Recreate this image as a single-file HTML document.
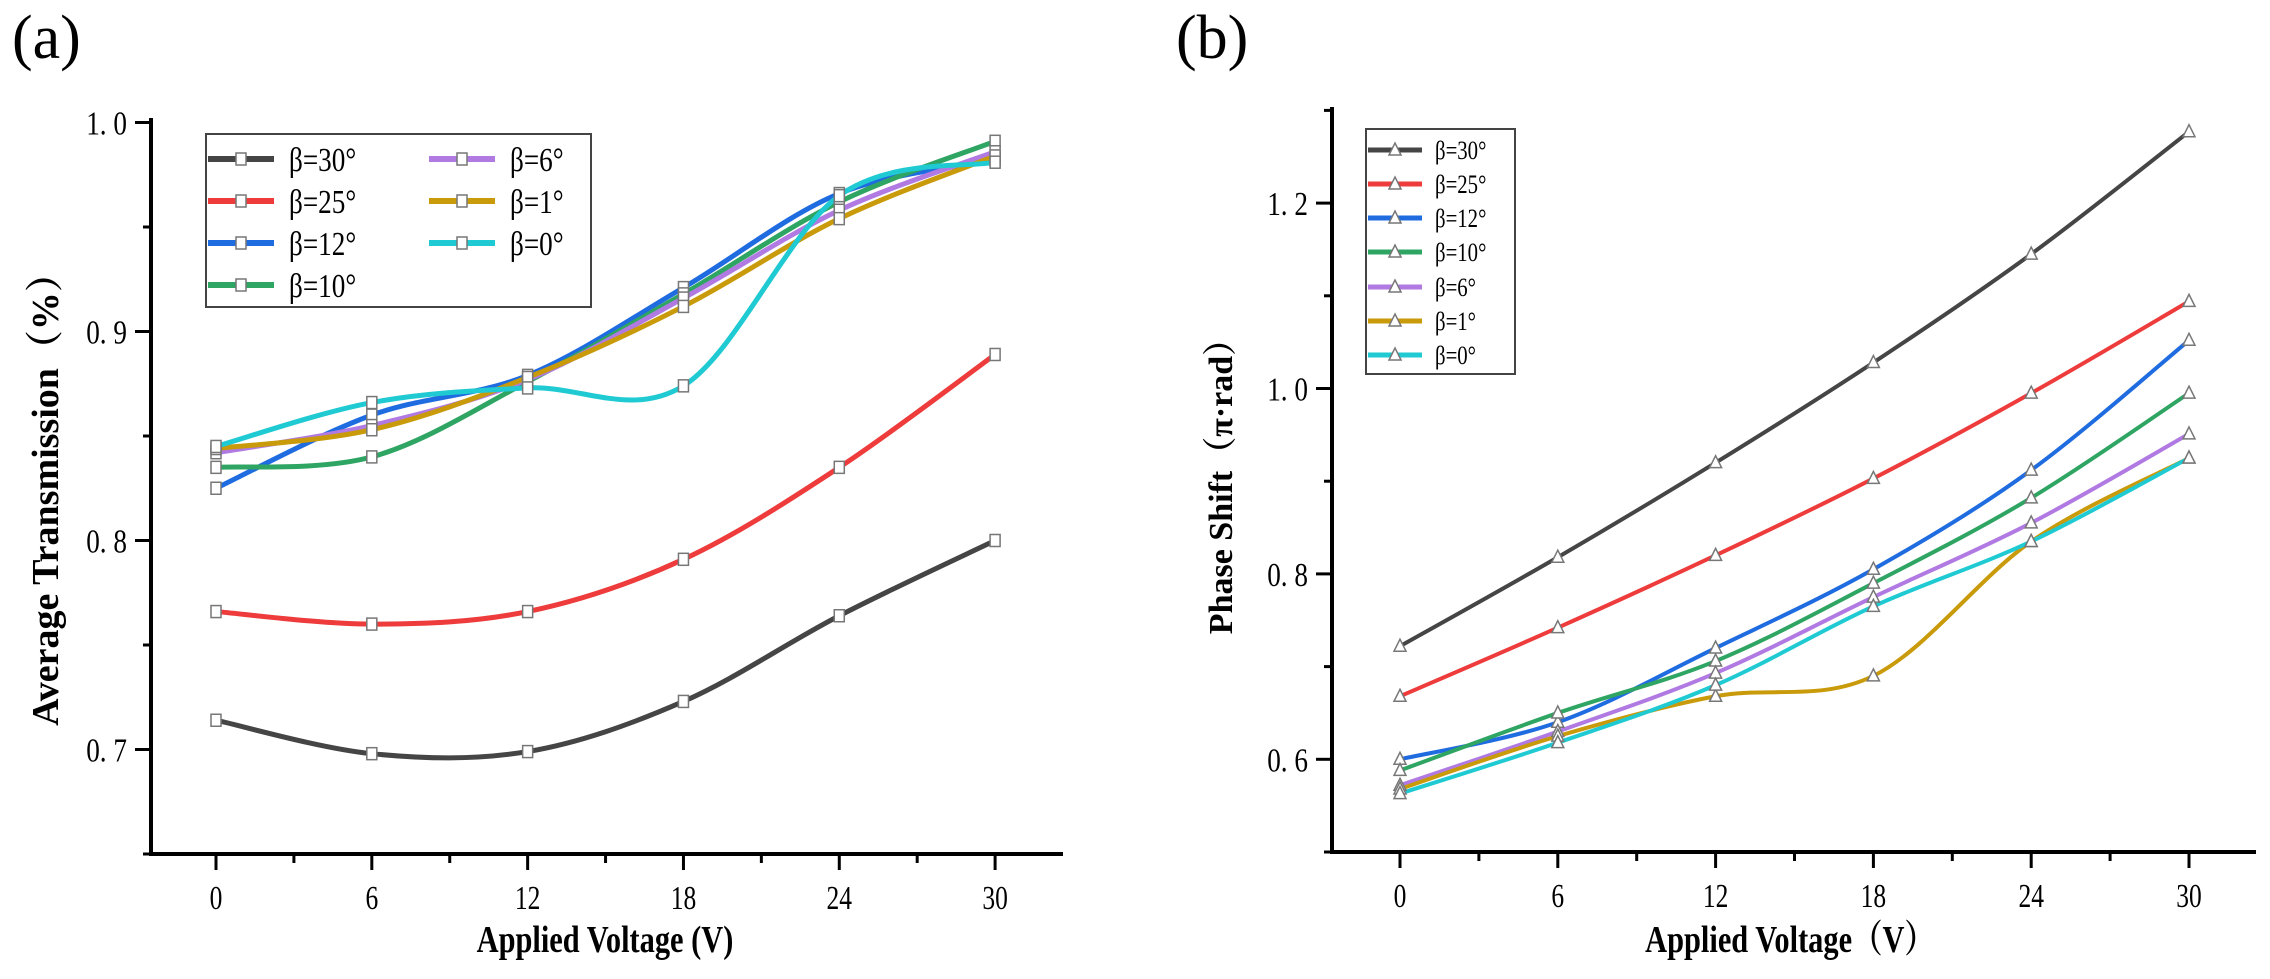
<!DOCTYPE html>
<html><head><meta charset="utf-8"><style>
html,body{margin:0;padding:0;background:#fff;}
svg{display:block;}
text{font-family:"Liberation Serif","Noto Serif CJK SC",serif;}
</style></head><body>
<svg id="fig" width="2270" height="979" viewBox="0 0 2270 979" xmlns="http://www.w3.org/2000/svg"></svg>
<script>
// ---- data ----
const voltages = [0, 6, 12, 18, 24, 30];
const seriesNamesA = ["β=30°","β=25°","β=12°","β=10°","β=6°","β=1°","β=0°"];
const colors = ["#454545","#ee3b3b","#1f6be0","#2fa563","#b07ae2","#c99a0a","#1fcad2"];
const trans30 = [0.714,0.698,0.699,0.723,0.764,0.800];
const trans25 = [0.766,0.760,0.766,0.791,0.835,0.889];
const trans12 = [0.825,0.860,0.879,0.921,0.966,0.982];
const trans10 = [0.835,0.840,0.876,0.918,0.962,0.991];
const trans6  = [0.842,0.855,0.877,0.916,0.958,0.986];
const trans1  = [0.844,0.853,0.878,0.912,0.954,0.984];
const trans0  = [0.845,0.866,0.873,0.874,0.965,0.981];
const phase30 = [0.722,0.818,0.920,1.028,1.145,1.277];
const phase25 = [0.668,0.742,0.820,0.903,0.995,1.094];
const phase12 = [0.600,0.640,0.720,0.805,0.912,1.052];
const phase10 = [0.588,0.650,0.706,0.790,0.882,0.995];
const phase6  = [0.572,0.630,0.693,0.775,0.855,0.951];
const phase1  = [0.568,0.625,0.668,0.690,0.835,0.925];
const phase0  = [0.563,0.618,0.680,0.765,0.835,0.925];
const yTicksA = [0.7,0.8,0.9,1.0];
const yTicksB = [0.6,0.8,1.0,1.2];

const NS="http://www.w3.org/2000/svg";
const svg=document.getElementById('fig');
function mk(tag,attrs,parent){const e=document.createElementNS(NS,tag);for(const k in attrs)e.setAttribute(k,attrs[k]);(parent||svg).appendChild(e);return e;}
function smooth(pts){let d=`M${pts[0][0]},${pts[0][1]}`;for(let i=0;i<pts.length-1;i++){const p0=pts[Math.max(0,i-1)],p1=pts[i],p2=pts[i+1],p3=pts[Math.min(pts.length-1,i+2)];const c1=[p1[0]+(p2[0]-p0[0])/6,p1[1]+(p2[1]-p0[1])/6],c2=[p2[0]-(p3[0]-p1[0])/6,p2[1]-(p3[1]-p1[1])/6];d+=` C${c1[0]},${c1[1]} ${c2[0]},${c2[1]} ${p2[0]},${p2[1]}`;}return d;}

function panel(cfg){
  const g=mk('g',{});
  
  
  const X=v=>cfg.x0+v*cfg.xs, Y=v=>cfg.yBase-(v-cfg.yMin)*cfg.ys;
  // axes
  const ax=mk('path',{d:`M${cfg.axL},${cfg.axTop} V${cfg.axY} H${cfg.axR}`,fill:'none',stroke:'#000','stroke-width':4},g);
  
  
  for(let v=0;v<=30;v+=3){const major=v%6===0;mk('line',{x1:X(v),x2:X(v),y1:cfg.axY,y2:cfg.axY+(major?16:9),stroke:'#000','stroke-width':3},g);}
  voltages.forEach(v=>{const t=mk('text',{x:X(v),y:cfg.axY+55,'font-size':34,'text-anchor':'middle',transform:`translate(${X(v)},0) scale(0.75,1) translate(${-X(v)},0)`},g);t.textContent=v;
    
    });
  for(let v=cfg.yMin;v<=cfg.yMax+1e-9;v+=cfg.minor){const isMaj=cfg.yTicks.some(t=>Math.abs(t-v)<1e-6);mk('line',{x1:cfg.axL,x2:cfg.axL-(isMaj?16:8),y1:Y(v),y2:Y(v),stroke:'#000','stroke-width':3},g);}
  cfg.yTicks.forEach(v=>{const t=mk('text',{x:cfg.axL-24,y:Y(v)+12,'font-size':34,'text-anchor':'end',transform:`translate(${cfg.axL-24},0) scale(0.8,1) translate(${-(cfg.axL-24)},0)`},g);t.textContent=v.toFixed(1).replace('.', '. ');
    
    });
  const xt=mk('text',{x:cfg.xTitleX,y:952,'font-size':38,'font-weight':'bold','text-anchor':'middle',transform:`translate(${cfg.xTitleX},0) scale(0.8,1) translate(${-cfg.xTitleX},0)`},g);xt.textContent=cfg.xTitle;
  
  
  const yt=mk('text',{x:0,y:0,'font-size':cfg.yTitleSize,'font-weight':'bold','text-anchor':'middle',transform:`translate(${cfg.yTitleX},${cfg.yTitleY}) rotate(-90)`},g);yt.textContent=cfg.yTitle;
  
  
  const pl=mk('text',{x:cfg.labX,y:58,'font-size':62},g);pl.textContent=cfg.label;
  
  
  // series
  cfg.series.forEach((s,i)=>{const pts=voltages.map((v,j)=>[X(v),Y(s[j])]);
    const p=mk('path',{d:smooth(pts),fill:'none',stroke:colors[i],'stroke-width':cfg.lw,'stroke-linecap':'round'},g);
    
    });
  cfg.series.forEach((s,i)=>{voltages.forEach((v,j)=>{const m=marker(X(v),Y(s[j]),cfg.tri,g);
    
    });});
  // legend
  const lg=mk('g',{},g);
  
  
  mk('rect',{x:cfg.leg.x,y:cfg.leg.y,width:cfg.leg.w,height:cfg.leg.h,fill:'#fff',stroke:'#444','stroke-width':2},lg);
  cfg.leg.items.forEach((it,i)=>{const e=mk('g',{},lg);
    
    
    mk('line',{x1:it[0],x2:it[0]+cfg.leg.lw,y1:it[1],y2:it[1],stroke:colors[i],'stroke-width':cfg.lw+1},e);
    marker(it[0]+cfg.leg.lw/2,it[1],cfg.tri,e);
    const t=mk('text',{x:it[0]+cfg.leg.lw+cfg.leg.gap,y:it[1]+cfg.leg.fs*0.35,'font-size':cfg.leg.fs,transform:`translate(${it[0]+cfg.leg.lw+cfg.leg.gap},0) scale(0.8,1) translate(${-(it[0]+cfg.leg.lw+cfg.leg.gap)},0)`},e);t.textContent=seriesNamesA[i];});
}
function marker(x,y,tri,parent){
  if(tri) return mk('path',{d:`M${x},${y-7} L${x+6},${y+5} L${x-6},${y+5} Z`,fill:'#fff',stroke:'#777','stroke-width':1.5},parent);
  return mk('rect',{x:x-5,y:y-6,width:10,height:12,fill:'#fff',stroke:'#777','stroke-width':1.5},parent);
}
panel({name:'chart-a',x0:216,xs:25.97,yBase:854,yMin:0.65,yMax:1.0,ys:2090,axL:151,axTop:118,axY:854,axR:1063,
  yTicks:yTicksA,minor:0.05,lw:5,tri:false,label:'(a)',labX:12,
  xTitle:'Applied Voltage (V)',xTitleX:605,yTitle:'Average Transmission（%）',yTitleX:58,yTitleY:490,yTitleSize:38,
  series:[trans30,trans25,trans12,trans10,trans6,trans1,trans0],
  leg:{x:206,y:134,w:385,h:173,lw:66,gap:15,fs:34,items:[[208,159],[208,201],[208,243],[208,285],[429,159],[429,201],[429,243]]}});
panel({name:'chart-b',x0:1400,xs:26.3,yBase:852,yMin:0.5,yMax:1.3,ys:927,axL:1332,axTop:107,axY:852,axR:2256,
  yTicks:yTicksB,minor:0.1,lw:4,tri:true,label:'(b)',labX:1176,
  xTitle:'Applied Voltage（V）',xTitleX:1790,yTitle:'Phase Shift（π·rad）',yTitleX:1232,yTitleY:478,yTitleSize:34,
  series:[phase30,phase25,phase12,phase10,phase6,phase1,phase0],
  leg:{x:1366,y:129,w:149,h:245,lw:54,gap:13,fs:26,items:[[1368,150],[1368,184],[1368,218],[1368,252],[1368,287],[1368,321],[1368,355]]}});
</script>
</body></html>
